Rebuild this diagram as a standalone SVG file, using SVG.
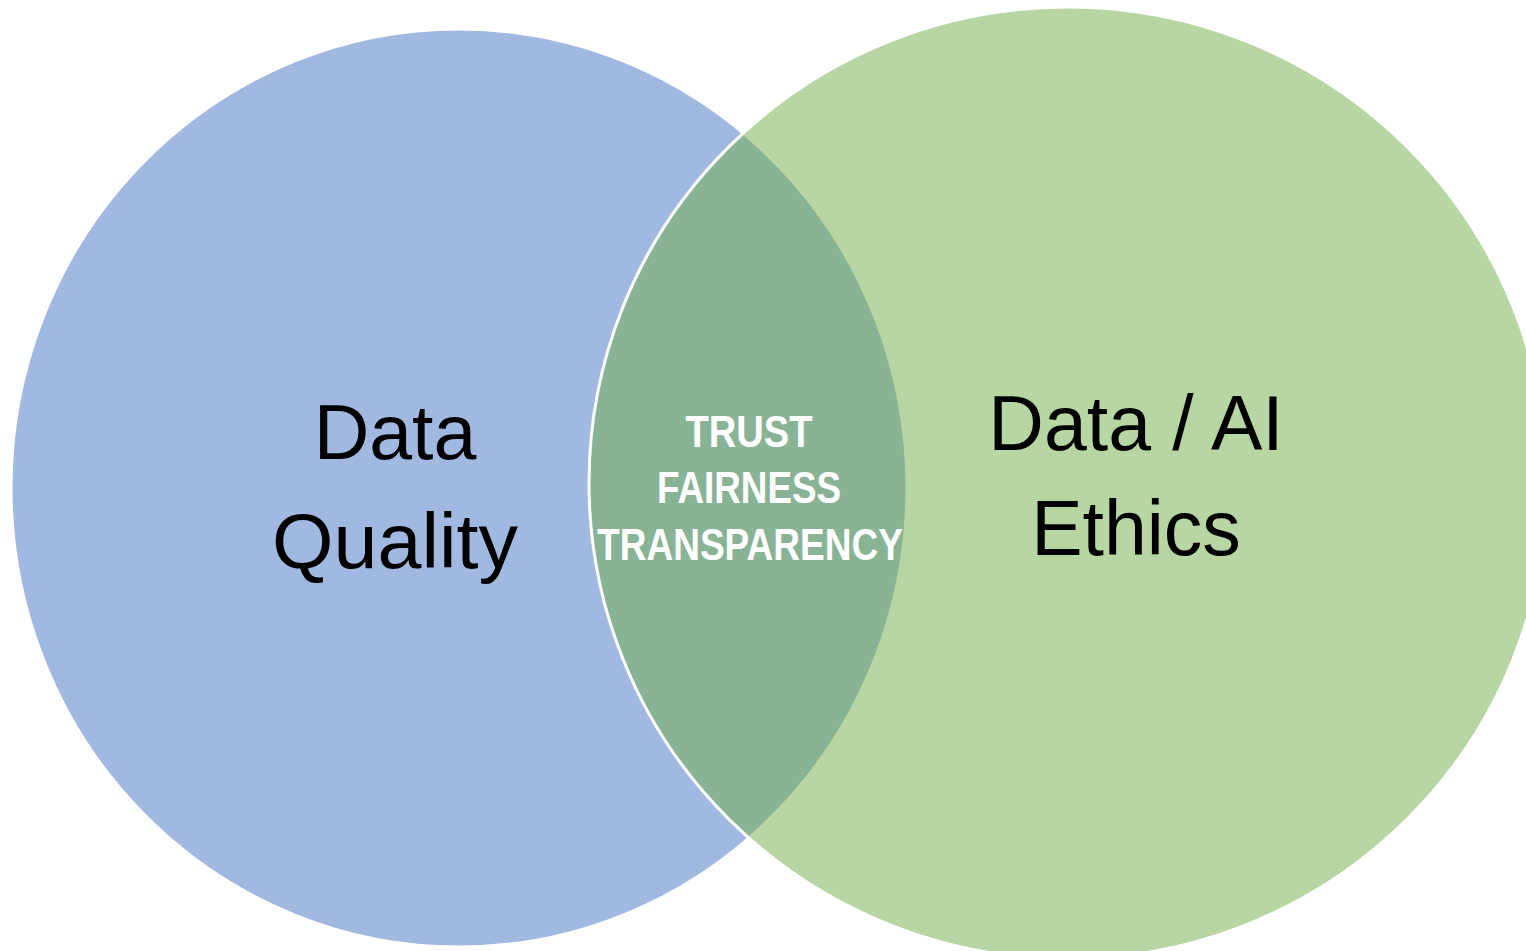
<svg xmlns="http://www.w3.org/2000/svg" width="1526" height="951" viewBox="0 0 1526 951">
<style>
.circ{stroke:#FFFFFF;stroke-width:3}
.big{font-family:"Liberation Sans","Arial",sans-serif;font-size:77px;fill:#000000;text-anchor:middle}
.mid{font-family:"Liberation Sans","Arial",sans-serif;font-size:44px;font-weight:bold;fill:#FFFFFF;text-anchor:middle}
</style>
<rect x="0" y="0" width="1526" height="951" fill="#FFFFFF"/>
<g id="data-quality">
<ellipse class="circ" cx="459" cy="488" rx="448" ry="459" fill="#4472C4" fill-opacity="0.5"/>
<text class="big" x="395" y="459">Data</text>
<text class="big" x="395" y="568" textLength="246" lengthAdjust="spacingAndGlyphs">Quality</text>
</g>
<g id="ai-ethics">
<ellipse class="circ" cx="1068" cy="483" rx="479" ry="476" fill="#70AD47" fill-opacity="0.5"/>
<text class="big" x="1136" y="450">Data / AI</text>
<text class="big" x="1136" y="555">Ethics</text>
</g>
<g id="overlap">
<text class="mid" x="749" y="447" textLength="127" lengthAdjust="spacingAndGlyphs">TRUST</text>
<text class="mid" x="749" y="503" textLength="184" lengthAdjust="spacingAndGlyphs">FAIRNESS</text>
<text class="mid" x="750" y="560" textLength="306" lengthAdjust="spacingAndGlyphs">TRANSPARENCY</text>
</g>
<g id="connectors"></g>
</svg>
